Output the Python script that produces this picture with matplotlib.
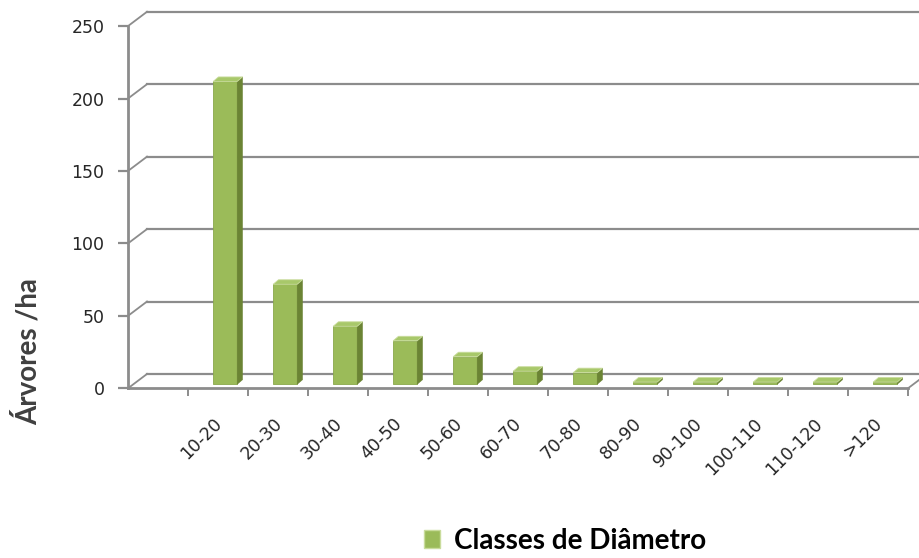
import matplotlib
matplotlib.use("Agg")
import matplotlib.pyplot as plt
import matplotlib.transforms as mtransforms
from matplotlib.patches import Polygon, Patch

categories = ["10-20", "20-30", "30-40", "40-50", "50-60", "60-70",
              "70-80", "80-90", "90-100", "100-110", "110-120", ">120"]
arvores_ha = [209, 69, 40, 30, 19, 9, 8, 1.5, 1.5, 1.5, 1.5, 1.5]
y_ticks = [0, 50, 100, 150, 200, 250]

# colours
FRONT = "#9bbb59"
SIDE = "#6b8434"
TOP = "#a8c86a"
GRID = "#8c8c8c"

# pseudo 3d geometry, in data units (x: category slots, y: values)
n_slots = len(categories) + 1          # first slot left empty like the original
wall_dx, wall_dy = 0.317, 9.9          # depth of the floor / walls
bar_ox, bar_oy = 0.12, 2.8             # where the bar front sits inside the depth
bar_dx, bar_dy = 0.088, 3.1            # bar depth
bar_w = 0.4

fig = plt.figure(figsize=(9.2, 5.58), dpi=100)
ax = fig.add_axes([128 / 920, 1 - 388.3 / 558, 792 / 920, 379.6 / 558])
ax.set_xlim(0, 13.2)
ax.set_ylim(0, 262)

# back wall gridlines + left wall diagonals
for v in y_ticks:
    ax.plot([wall_dx, n_slots + wall_dx + 1], [v + wall_dy, v + wall_dy],
            color=GRID, lw=1.6, zorder=1)
    ax.plot([0, wall_dx], [v, v + wall_dy], color=GRID, lw=1.3, zorder=1,
            clip_on=False)
# right edge of floor
ax.plot([n_slots, n_slots + wall_dx], [0, wall_dy], color=GRID, lw=1.3,
        zorder=1, clip_on=False)

# bars
centers = [i + 1.5 for i in range(len(categories))]
bar_x = [c + bar_ox for c in centers]
bars = ax.bar(bar_x, arvores_ha, width=bar_w, bottom=bar_oy, color=FRONT,
              edgecolor="#8aa84c", linewidth=0.6, zorder=3)
for x, v in zip(bar_x, arvores_ha):
    xl, xr = x - bar_w / 2, x + bar_w / 2
    top = bar_oy + v
    side = Polygon([(xr, bar_oy), (xr + bar_dx, bar_oy + bar_dy),
                    (xr + bar_dx, top + bar_dy), (xr, top)],
                   closed=True, facecolor=SIDE, edgecolor=SIDE, lw=0.4, zorder=3)
    lid = Polygon([(xl, top), (xl + bar_dx, top + bar_dy),
                   (xr + bar_dx, top + bar_dy), (xr, top)],
                  closed=True, facecolor=TOP, edgecolor="#c9dc9c", lw=0.6, zorder=4)
    ax.add_patch(side)
    ax.add_patch(lid)

# axes
for s in ["top", "right"]:
    ax.spines[s].set_visible(False)
ax.spines["left"].set_bounds(0, 250)
ax.spines["bottom"].set_bounds(0, n_slots)
for s in ["left", "bottom"]:
    ax.spines[s].set_color(GRID)
    ax.spines[s].set_linewidth(2)

ax.set_yticks(y_ticks)
ax.set_yticklabels([str(v) for v in y_ticks])
ax.tick_params(axis="y", length=7, width=1.6, color=GRID, pad=10,
               labelsize=12.5, labelcolor="#262626")

ax.set_xticks(range(1, n_slots + 1), minor=True)
ax.tick_params(axis="x", which="minor", length=6, width=1.4, color=GRID)
ax.set_xticks(centers)
ax.set_xticklabels(categories, rotation=45, ha="right",
                   rotation_mode="anchor")
ax.tick_params(axis="x", which="major", length=0, pad=19,
               labelsize=12.5, labelcolor="#262626")
shift = mtransforms.ScaledTranslation(-0.05, 0, fig.dpi_scale_trans)
for lbl in ax.get_xticklabels():
    lbl.set_transform(lbl.get_transform() + shift)

fig.text(27 / 920, 1 - 352 / 558, "Árvores /ha", rotation=90, ha="center",
         va="center", fontsize=20, fontweight="bold", color="#404040",
         family="Lato")

fig.legend(handles=[Patch(facecolor=FRONT, edgecolor="#c9dc9c", lw=1)],
           labels=["Classes de Diâmetro"], loc="center",
           bbox_to_anchor=(565 / 920, 1 - 541 / 558), frameon=False,
           handlelength=0.6, handleheight=0.6, handletextpad=0.5,
           prop={"family": "Lato", "weight": "bold", "size": 20})

fig.savefig("out.png", dpi=100)
